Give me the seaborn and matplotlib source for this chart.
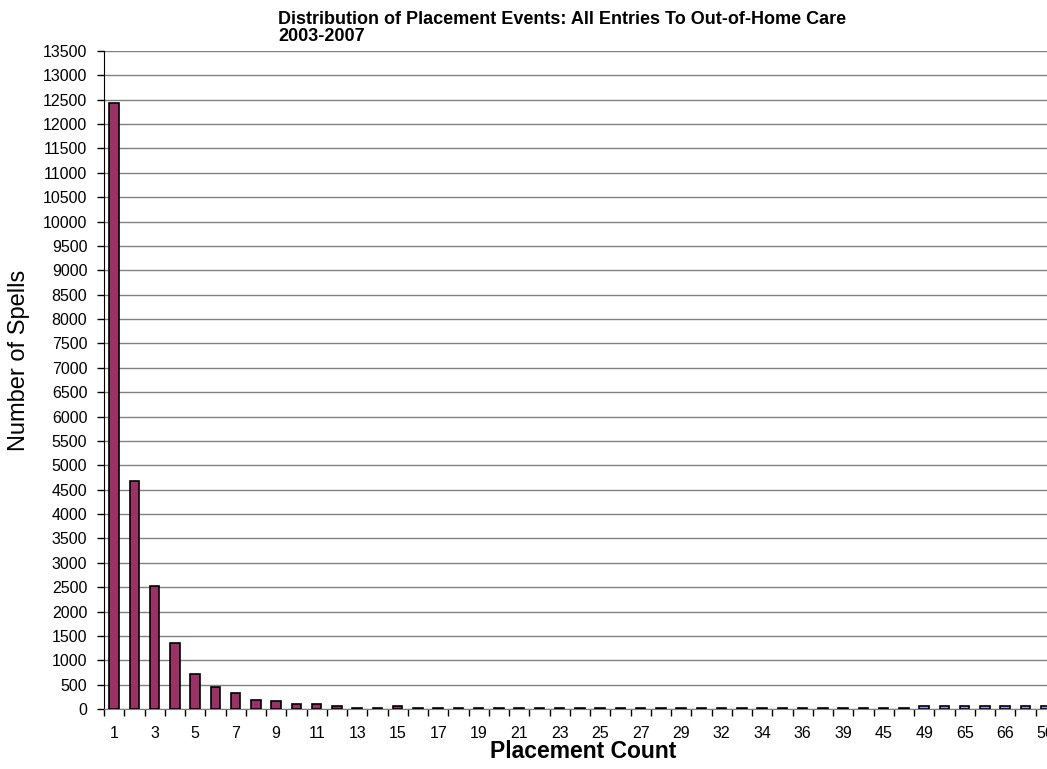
import matplotlib
matplotlib.use("Agg")
import matplotlib.pyplot as plt
import numpy as np
import pandas as pd
import seaborn as sns

# category labels along the x axis (only every other one is shown)
categories = [str(i) for i in range(1, 31)] + [
    "32", "33", "34", "35", "36", "37", "39", "42", "45", "47",
    "49", "52", "65", "58", "66", "54", "56",
]
spells = [
    12430, 4680, 2520, 1360, 710, 450, 320, 190, 160, 95,
    95, 60, 30, 30, 60, 25, 25, 25, 25, 25,
    25, 25, 25, 25, 25, 25, 25, 25, 25, 25,
    25, 25, 25, 25, 25, 25, 25, 25, 25, 25,
    60, 60, 60, 60, 60, 60, 60,
]
series = ["main"] * 40 + ["other"] * 7
colors = {"main": "#993366", "other": "#9999FF"}

df = pd.DataFrame({"count": categories, "spells": spells, "series": series})

sns.set_style("white")
plt.rcParams["font.family"] = ["Liberation Sans", "DejaVu Sans"]
plt.rcParams.update({"text.color": "black", "xtick.color": "black",
                     "ytick.color": "black", "axes.labelcolor": "black"})

fig = plt.figure(figsize=(10.47, 7.69), dpi=100)
n = len(categories)
cat_px = 20.25
ax = fig.add_axes([104 / 1047, 1 - 709 / 769, n * cat_px / 1047, (709 - 51) / 769])

sns.barplot(data=df, x="count", y="spells", hue="series", palette=colors,
            order=categories, dodge=False, width=0.48, saturation=1,
            edgecolor="black", linewidth=1.2, legend=False, ax=ax, zorder=3)

ax.set_xlim(-0.5, n - 0.5)
ax.set_ylim(0, 13500)
ax.set_yticks(np.arange(0, 13501, 500))
ax.tick_params(axis="y", labelsize=11.5, length=5, width=1, pad=7,
               direction="out", left=True)
ax.yaxis.grid(True, color="#808080", linewidth=1)
ax.set_axisbelow(True)

ax.set_xticks(range(0, n, 2))
ax.set_xticklabels(categories[::2], fontsize=11.5)
ax.tick_params(axis="x", length=0, pad=12)
ax.set_xticks(np.arange(-0.5, n, 1), minor=True)
ax.tick_params(axis="x", which="minor", length=5, width=1, direction="out", bottom=True)

for s in ["top", "right"]:
    ax.spines[s].set_visible(False)
ax.spines["left"].set_color("black")
ax.spines["bottom"].set_color("#808080")

ax.set_xlabel("")
ax.set_ylabel("")
fig.text(583 / 1047, 1 - 752 / 769, "Placement Count", ha="center", va="center",
         fontsize=16.5, fontweight="bold")
fig.text(19 / 1047, 1 - 360 / 769, "Number of Spells", ha="center", va="center",
         rotation=90, fontsize=17)

fig.text(278 / 1047, 1 - 11 / 769,
         "Distribution of Placement Events: All Entries To Out-of-Home Care\n2003-2007",
         ha="left", va="top", fontsize=13, fontweight="bold", linespacing=1.0)

fig.savefig("out.png", dpi=100)
